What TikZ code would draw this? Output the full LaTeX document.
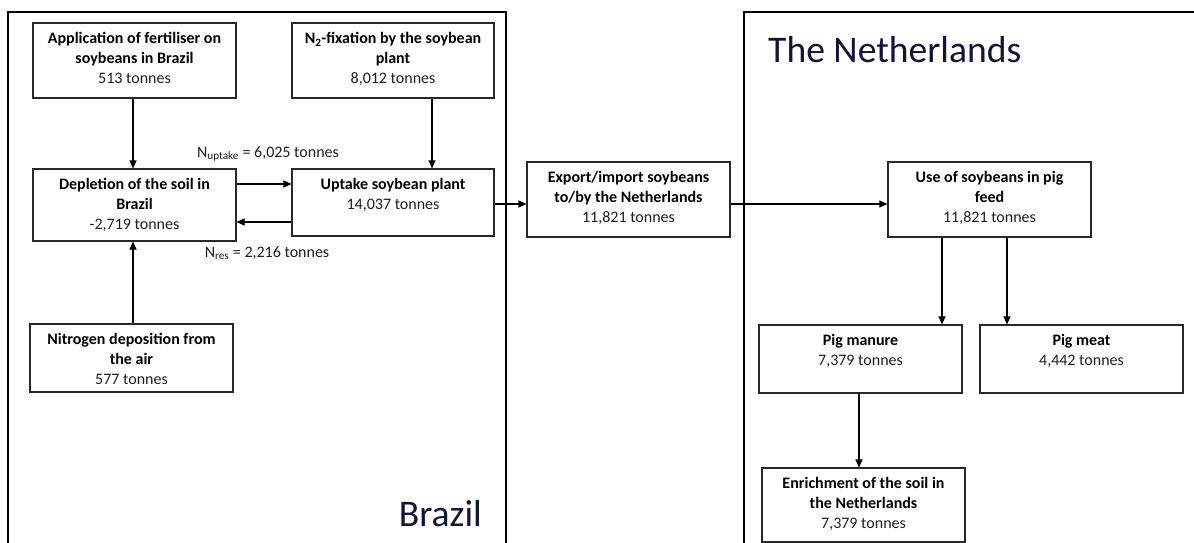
\documentclass[tikz,border=0pt]{standalone}
\usepackage{fontspec}
\setmainfont{Carlito}
\usetikzlibrary{arrows.meta}
\definecolor{titlecol}{RGB}{18,20,55}
\definecolor{linecol}{RGB}{40,40,40}
\definecolor{numcol}{RGB}{30,30,30}
\newcommand{\fbtext}[2]{\parbox[c][#1][t]{200pt}{\centering\fontsize{16}{20}\selectfont\rule{0pt}{20.5pt}#2\par}}
\tikzset{
  fbox/.style={draw=linecol, line width=1.1pt, inner sep=0pt, minimum width=203pt, fill=white},
  frame/.style={draw=black, line width=1.3pt},
  arr/.style={draw=black, line width=1.1pt, -{Triangle[length=8pt,width=7pt]}},
  flowlabel/.style={inner sep=0pt, font=\fontsize{16}{20}\selectfont, text=numcol},
  title/.style={inner sep=0pt, font=\fontsize{37.6}{40}\selectfont, text=titlecol}
}
\newcommand{\num}[1]{\textcolor{numcol}{#1}}
\begin{document}
\begin{tikzpicture}[x=1pt,y=-1pt]
\useasboundingbox (0,0) rectangle (1194,543);
\fill[white] (0,0) rectangle (1194,543);
% frames
\draw[frame] (8,546) -- (8,12) -- (506,12) -- (506,546);
\draw[frame] (744,546) -- (744,12) -- (1197,12);
% titles
\node[title, anchor=base east] (brazil) at (482,526) {Brazil};
\node[title, anchor=base west] (nl) at (768,63) {The Netherlands};
% boxes
\node[fbox] (app) at (134.5,60.5) {\fbtext{75pt}{\textbf{Application of fertiliser on}\\\textbf{soybeans in Brazil}\\\num{513 tonnes}}};
\node[fbox, minimum width=202pt] (fix) at (393,60.5) {\fbtext{75pt}{\textbf{N\textsubscript{2}-fixation by the soybean}\\\textbf{plant}\\\num{8,012 tonnes}}};
\node[fbox] (depl) at (134.5,205) {\fbtext{72pt}{\textbf{Depletion of the soil in}\\\textbf{Brazil}\\\num{-2,719 tonnes}}};
\node[fbox, minimum width=202pt] (upt) at (393,202.5) {\fbtext{67pt}{\textbf{Uptake soybean plant}\\\num{14,037 tonnes}}};
\node[fbox] (dep) at (131.5,358) {\fbtext{68pt}{\textbf{Nitrogen deposition from}\\\textbf{the air}\\\num{577 tonnes}}};
\node[fbox] (exp) at (628.5,199.5) {\fbtext{75pt}{\textbf{Export/import soybeans}\\\textbf{to/by the Netherlands}\\\num{11,821 tonnes}}};
\node[fbox] (use) at (989.5,199.5) {\fbtext{75pt}{\textbf{Use of soybeans in pig}\\\textbf{feed}\\\num{11,821 tonnes}}};
\node[fbox] (man) at (860.5,359) {\fbtext{68pt}{\textbf{Pig manure}\\\num{7,379 tonnes}}};
\node[fbox] (meat) at (1081.5,359) {\fbtext{68pt}{\textbf{Pig meat}\\\num{4,442 tonnes}}};
\node[fbox] (enr) at (863.5,505) {\fbtext{74pt}{\textbf{Enrichment of the soil in}\\\textbf{the Netherlands}\\\num{7,379 tonnes}}};
% labels
\node[flowlabel] (lup) at (268,154) {N\textsubscript{uptake} = 6,025 tonnes};
\node[flowlabel] (lres) at (267,253) {N\textsubscript{res} = 2,216 tonnes};
% helper coordinates
\coordinate (xa) at (133,0);
\coordinate (xf) at (432,0);
\coordinate (y1) at (0,184);
\coordinate (y2) at (0,222);
\coordinate (y3) at (0,204);
\coordinate (xm1) at (942,0);
\coordinate (xm2) at (1007,0);
\coordinate (xe) at (859,0);
% connectors
\draw[arr] (app.south -| xa) -- (depl.north -| xa);
\draw[arr] (fix.south -| xf) -- (upt.north -| xf);
\draw[arr] (depl.east |- y1) -- (upt.west |- y1);
\draw[arr] (upt.west |- y2) -- (depl.east |- y2);
\draw[arr] (dep.north -| xa) -- (depl.south -| xa);
\draw[arr] (upt.east |- y3) -- (exp.west |- y3);
\draw[arr] (exp.east |- y3) -- (use.west |- y3);
\draw[arr] (use.south -| xm1) -- (man.north -| xm1);
\draw[arr] (use.south -| xm2) -- (meat.north -| xm2);
\draw[arr] (man.south -| xe) -- (enr.north -| xe);
\end{tikzpicture}
\end{document}
